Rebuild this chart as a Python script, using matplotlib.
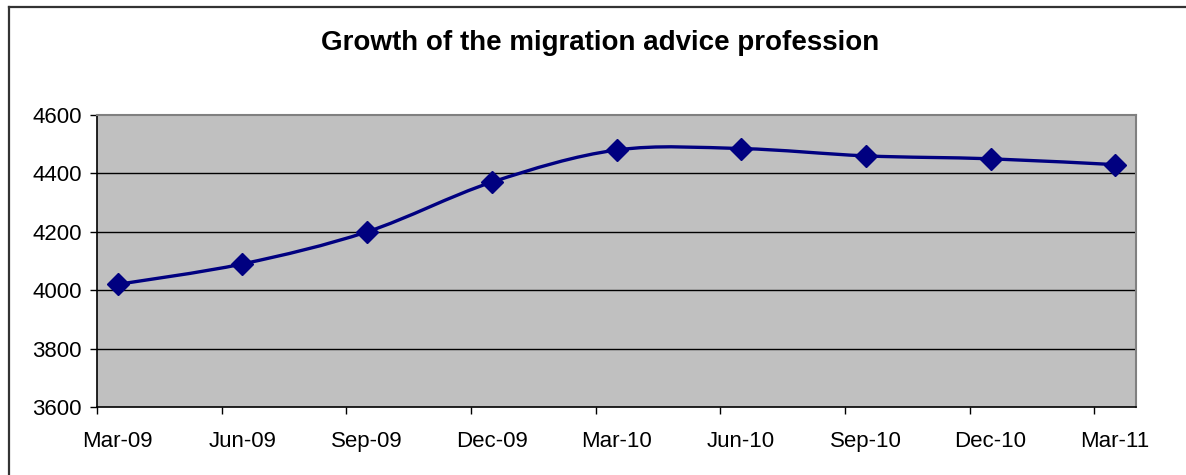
import numpy as np
import matplotlib
matplotlib.use('Agg')
import matplotlib.pyplot as plt
from matplotlib.path import Path
from matplotlib.patches import PathPatch
from matplotlib.lines import Line2D

plt.rcParams['font.family'] = ['Liberation Sans', 'DejaVu Sans']

quarters = ['Mar-09', 'Jun-09', 'Sep-09', 'Dec-09', 'Mar-10', 'Jun-10', 'Sep-10', 'Dec-10', 'Mar-11']
advisers = [4020, 4090, 4200, 4370, 4480, 4485, 4460, 4450, 4430]
y_ticks = [3600, 3800, 4000, 4200, 4400, 4600]

# month based axis: each quarter is 3 months wide, points sit mid-month
month_pos = np.arange(len(quarters)) * 3 + 0.5
month_start = np.arange(len(quarters)) * 3

fig = plt.figure(figsize=(11.86, 4.75), dpi=100)
ax = fig.add_axes([97 / 1186, 68 / 475, 1039 / 1186, 292 / 475])
ax.set_facecolor('#c0c0c0')
ax.set_xlim(0, 25)
ax.set_ylim(3600, 4600)

for v in y_ticks[1:-1]:
    ax.axhline(v, color='black', lw=1, zorder=1)

for side in ['top', 'right']:
    ax.spines[side].set_color('#808080')
    ax.spines[side].set_linewidth(1.5)
for side in ['left', 'bottom']:
    ax.spines[side].set_color('black')
    ax.spines[side].set_linewidth(1.2)

ax.set_yticks(y_ticks)
ax.tick_params(axis='y', length=5, width=1, pad=6, labelsize=16, direction='out')
ax.set_xticks(month_start)
ax.set_xticklabels([])
ax.tick_params(axis='x', which='major', length=5, width=1, direction='out')
ax.set_xticks(month_pos, minor=True)
ax.set_xticklabels(quarters, minor=True)
ax.tick_params(axis='x', which='minor', length=0, pad=17, labelsize=16)

# smoothed line (Catmull-Rom -> cubic Bezier, built in screen space)
pts = ax.transData.transform(np.column_stack([month_pos, advisers]))
ext = np.vstack([pts[0], pts, pts[-1]])
verts = [pts[0]]
codes = [Path.MOVETO]
for i in range(len(pts) - 1):
    p0, p1, p2, p3 = ext[i], ext[i + 1], ext[i + 2], ext[i + 3]
    verts += [p1 + (p2 - p0) / 6, p2 - (p3 - p1) / 6, p2]
    codes += [Path.CURVE4] * 3
verts = ax.transData.inverted().transform(np.array(verts))
ax.add_patch(PathPatch(Path(verts, codes), facecolor='none', edgecolor='#000080',
                       lw=2.4, zorder=3, capstyle='round', joinstyle='round'))
ax.plot(month_pos, advisers, ls='none', marker='D', ms=11, color='#000080', zorder=4)

fig.text(0.506, 0.91, 'Growth of the migration advice profession',
         ha='center', va='center', fontsize=20, fontweight='bold')

# chart border (top and left edges)
fig.add_artist(Line2D([8.5 / 1186, 1], [1 - 6.5 / 475, 1 - 6.5 / 475], color='#333333', lw=1.6))
fig.add_artist(Line2D([8.5 / 1186, 8.5 / 1186], [0, 1 - 6.5 / 475], color='#333333', lw=1.6))

fig.savefig('out.png', dpi=100)
